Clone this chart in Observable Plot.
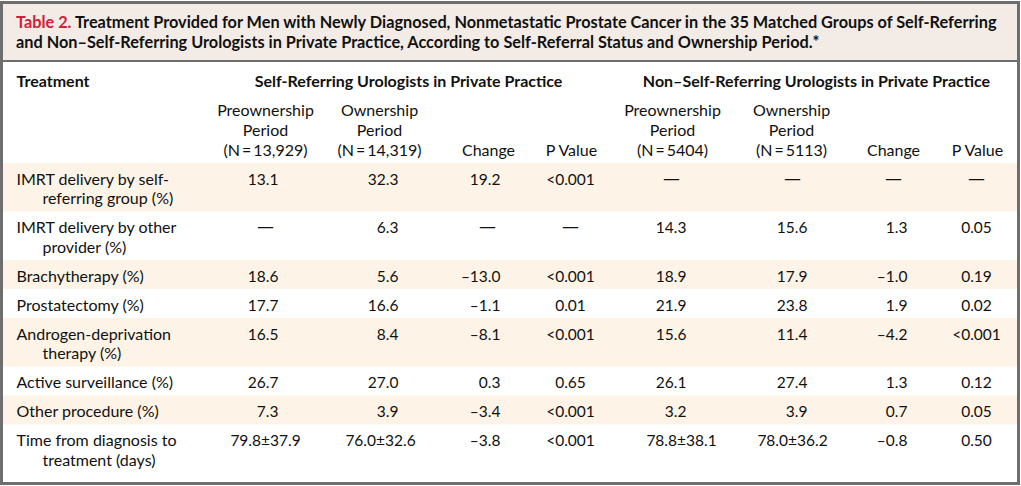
<!DOCTYPE html>
<html>
<head>
<meta charset="utf-8">
<script src="https://cdn.jsdelivr.net/npm/d3@7"></script>
<script src="https://cdn.jsdelivr.net/npm/@observablehq/plot@0.6"></script>
<style>
  html, body { margin: 0; padding: 0; background: #fff; }
  #wrap { position: relative; width: 1021px; height: 486px; overflow: hidden; font-family: Lato, "Open Sans", sans-serif; }
  #title { position: absolute; left: 3px; top: 4px; width: 1014px; height: 58px; box-sizing: border-box;
           background: #f3ece6; border-bottom: 2px solid #6e6e6e; padding: 8px 0 0 13px;
           font-weight: bold; font-size: 16.3px; line-height: 20px; color: #111; }
  #title .lab { color: #d1213a; }
  #chart { position: absolute; left: 0; top: 62px; }
  #border { position: absolute; left: 0; top: 1px; width: 1020px; height: 484px; box-sizing: border-box;
            border: 3px solid #6e6e6e; pointer-events: none; }
</style>
</head>
<body>
<div id="wrap">
  <div id="title"></div>
  <div id="chart"></div>
  <div id="border"></div>
</div>
<script>
// ---------- data ----------
const titleLabel = "Table 2.";
const titleLine1 = "Treatment Provided for Men with Newly Diagnosed, Nonmetastatic Prostate Cancer in the 35 Matched Groups of Self-Referring";
const titleLine2 = "and Non\u2013Self-Referring Urologists in Private Practice, According to Self-Referral Status and Ownership Period.*";

const stubHeader = "Treatment";
const groupHeaders = ["Self-Referring Urologists in Private Practice", "Non\u2013Self-Referring Urologists in Private Practice"];
const columnHeaders = [
  "Preownership\nPeriod\n(N\u2009=\u200913,929)",
  "Ownership\nPeriod\n(N\u2009=\u200914,319)",
  "Change",
  "P Value",
  "Preownership\nPeriod\n(N\u2009=\u20095404)",
  "Ownership\nPeriod\n(N\u2009=\u20095113)",
  "Change",
  "P Value"
];

const treatments = [
  "IMRT delivery by self-\nreferring group (%)",
  "IMRT delivery by other\nprovider (%)",
  "Brachytherapy (%)",
  "Prostatectomy (%)",
  "Androgen-deprivation\ntherapy (%)",
  "Active surveillance (%)",
  "Other procedure (%)",
  "Time from diagnosis to\ntreatment (days)"
];
const selfPre    = ["13.1", "\u2014", "18.6", "17.7", "16.5", "26.7", "7.3", "79.8\u00b137.9"];
const selfOwn    = ["32.3", "6.3", "5.6", "16.6", "8.4", "27.0", "3.9", "76.0\u00b132.6"];
const selfChange = ["19.2", "\u2014", "\u201313.0", "\u20131.1", "\u20138.1", "0.3", "\u20133.4", "\u20133.8"];
const selfP      = ["<0.001", "\u2014", "<0.001", "0.01", "<0.001", "0.65", "<0.001", "<0.001"];
const nonPre     = ["\u2014", "14.3", "18.9", "21.9", "15.6", "26.1", "3.2", "78.8\u00b138.1"];
const nonOwn     = ["\u2014", "15.6", "17.9", "23.8", "11.4", "27.4", "3.9", "78.0\u00b136.2"];
const nonChange  = ["\u2014", "1.3", "\u20131.0", "1.9", "\u20134.2", "1.3", "0.7", "\u20130.8"];
const nonP       = ["\u2014", "0.05", "0.19", "0.02", "<0.001", "0.12", "0.05", "0.50"];

// ---------- layout ----------
const columns = [
  {values: selfPre,    head: 265, center: 265, right: 278, pm: 265, align: "num"},
  {values: selfOwn,    head: 379, center: 380, right: 398, pm: 380, align: "num"},
  {values: selfChange, head: 488, center: 487, right: 500, pm: 487, align: "num"},
  {values: selfP,      head: 571, center: 570, right: null, pm: 570, align: "center"},
  {values: nonPre,     head: 672, center: 671, right: 686, pm: 681, align: "num"},
  {values: nonOwn,     head: 791, center: 792, right: 807, pm: 792, align: "num"},
  {values: nonChange,  head: 893, center: 893, right: 907, pm: 893, align: "num"},
  {values: nonP,       head: 977, center: 976, right: null, pm: 976, align: "center"}
];
const groupCenters = [408, 816];
const FT = 16;     // text size
const FN = 15.5;   // number size
const mid = (b, fs) => b - 0.32 * fs;      // baseline -> middle-anchored y
const tableTop = 163, lineStep = 19.5, rowPad = 9.5, firstBase = 21;
const innerLeft = 3, innerRight = 1017;
const DASH = "\u2014";

// title
const titleEl = document.getElementById("title");
const labEl = document.createElement("span"); labEl.className = "lab"; labEl.textContent = titleLabel;
titleEl.appendChild(labEl);
titleEl.appendChild(document.createTextNode(" " + titleLine1));
titleEl.appendChild(document.createElement("br"));
titleEl.appendChild(document.createTextNode(titleLine2));

// rows
let cursor = tableTop;
const rows = treatments.map((label, i) => {
  const lines = label.split("\n");
  const r = {i, lines, y0: cursor, y1: cursor + rowPad + lineStep * lines.length};
  cursor = r.y1;
  return r;
});
const labelLines = rows.flatMap(r => r.lines.map((text, k) => ({text, k, base: r.y0 + firstBase + k * lineStep})));
const cells = rows.flatMap(r => columns.map((c, j) => {
  const text = c.values[r.i];
  const kind = text === DASH ? "dash" : c.align === "center" ? "center" : text.includes("\u00b1") ? "pm" : "right";
  const x = kind === "dash" || kind === "center" ? c.center : kind === "pm" ? c.pm : c.right;
  return {text, kind, x, base: r.y0 + firstBase};
}));
const headLines = columnHeaders.flatMap((h, j) => {
  const ls = h.split("\n");
  return ls.map((text, k) => ({text, x: columns[j].head, base: 155.5 - (ls.length - 1 - k) * 19.8}));
});
const stripes = rows.filter(r => r.i % 2 === 0);

const ink = "#111";
const chart = Plot.plot({
  width: 1021,
  height: 424,
  margin: 0,
  x: {type: "linear", domain: [0, 1021], range: [0, 1021], axis: null},
  y: {type: "linear", domain: [62, 486], range: [0, 424], axis: null},
  style: {fontFamily: "Lato, 'Open Sans', sans-serif", fontSize: FT + "px", background: "transparent", color: ink},
  marks: [
    Plot.rect(stripes, {x1: innerLeft, x2: innerRight, y1: "y0", y2: "y1", fill: "#fdf4e7"}),
    Plot.text([stubHeader], {x: 16, y: mid(86.5, FT), text: d => d, textAnchor: "start", fontWeight: "bold", fontSize: FT, fill: ink}),
    Plot.text(groupHeaders, {x: (d, i) => groupCenters[i], y: mid(86.5, FT), text: d => d, textAnchor: "middle", fontWeight: "bold", fontSize: FT, fill: ink}),
    Plot.text(headLines, {x: "x", y: d => mid(d.base, FT), text: "text", textAnchor: "middle", fontSize: FT, fill: ink}),
    Plot.text(labelLines, {x: d => d.k === 0 ? 16 : 42, y: d => mid(d.base, FT), text: "text", textAnchor: "start", fontSize: FT, fill: ink}),
    Plot.text(cells.filter(d => d.kind === "right"), {x: "x", y: d => mid(d.base, FN), text: "text", textAnchor: "end", fontSize: FN, fill: ink}),
    Plot.text(cells.filter(d => d.kind === "center" || d.kind === "pm"), {x: "x", y: d => mid(d.base, FN), text: "text", textAnchor: "middle", fontSize: FN, fill: ink}),
    Plot.text(cells.filter(d => d.kind === "dash"), {x: "x", y: d => mid(d.base, FN) - 1, text: "text", textAnchor: "middle", fontFamily: "'DejaVu Sans'", fontSize: 17, fill: ink})
  ]
});
document.getElementById("chart").appendChild(chart);
</script>
</body>
</html>
